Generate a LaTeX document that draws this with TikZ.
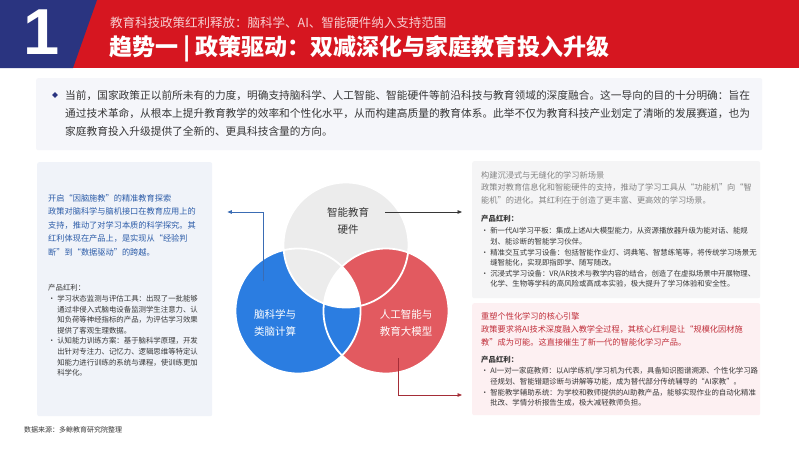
\documentclass[tikz,border=0pt]{standalone}
\usepackage{fontspec}
\setmainfont{Noto Sans CJK SC}
\newfontfamily\numfont{Liberation Sans}
\usetikzlibrary{arrows.meta,positioning,shapes.geometric}
\definecolor{hdred}{RGB}{214,22,32}
\definecolor{hdblue}{RGB}{42,52,128}
\definecolor{subtc}{RGB}{247,205,207}
\definecolor{introc}{RGB}{245,246,250}
\definecolor{lboxc}{RGB}{240,243,249}
\definecolor{rtopc}{RGB}{245,245,246}
\definecolor{rbotc}{RGB}{253,240,242}
\definecolor{ltxtc}{RGB}{44,92,168}
\definecolor{rtxtc}{RGB}{192,46,58}
\definecolor{gtxtc}{RGB}{130,130,130}
\definecolor{darktxt}{RGB}{55,55,55}
\definecolor{vblue}{RGB}{43,125,225}
\definecolor{vred}{RGB}{226,90,96}
\definecolor{vgray}{RGB}{236,236,236}
\definecolor{arrblue}{RGB}{58,108,180}
\definecolor{arrred}{RGB}{165,45,55}
\newcommand{\ind}{\hphantom{•\ }}

\begin{document}
\begin{tikzpicture}[x=1pt,y=-1pt,
  panel/.style={inner sep=0pt,rounded corners=2pt,anchor=north west},
  body/.style={anchor=north west,inner sep=0pt,align=left},
  bluetxt/.style={body,text=ltxtc,font=\fontsize{8.2}{13.5}\selectfont},
  graytxt/.style={body,text=gtxtc,font=\fontsize{8.2}{12.5}\selectfont},
  redtxt/.style={body,text=rtxtc,font=\fontsize{8.2}{13}\selectfont},
  prodtxt/.style={body,text=darktxt,font=\fontsize{7.4}{10.6}\selectfont},
  venntxt/.style={align=center,font=\fontsize{10.5}{17}\selectfont},
  conn/.style={line width=0.8pt,-{Triangle[length=4.5pt,width=3.6pt]}}]
\useasboundingbox (0,0) rectangle (799,450);
\fill[white] (0,0) rectangle (799,450);
% ---- header band ----
\fill[hdred] (0,0) rectangle (799,68);
\fill[hdblue] (0,0) -- (97,0) -- (73,68) -- (0,68) -- cycle;
\node[text=white,font=\numfont\bfseries\fontsize{65}{65}\selectfont,inner sep=0pt] (num) at (42,32) {1};
\node[anchor=west,inner sep=0pt,text=subtc,font=\fontsize{12.5}{14}\selectfont] (subt) at (110,23)
  {教育科技政策红利释放：脑科学、AI、智能硬件纳入支持范围};
\node[anchor=west,inner sep=0pt,text=white,font=\bfseries\fontsize{23}{26}\selectfont] (title) at (109,49)
  {趋势一 | 政策驱动：双减深化与家庭教育投入升级};
% ---- intro ----
\node[panel,fill=introc,minimum width=726pt,minimum height=72pt] (introbox) at (36,78) {};
\node[diamond,fill=hdblue,inner sep=0pt,minimum size=6pt] (dia) at (55,95) {};
\node[body,text=darktxt,font=\fontsize{10.7}{18}\selectfont] (intro) at (65,90.5)
  {当前，国家政策正以前所未有的力度，明确支持脑科学、人工智能、智能硬件等前沿科技与教育领域的深度融合。这一导向的目的十分明确：旨在\\
   通过技术革命，从根本上提升教育教学的效率和个性化水平，从而构建高质量的教育体系。此举不仅为教育科技产业划定了清晰的发展赛道，也为\\
   家庭教育投入升级提供了全新的、更具科技含量的方向。};
% ---- side panels ----
\node[panel,fill=lboxc,minimum width=175pt,minimum height=254pt] (lbox) at (37,162) {};
\node[panel,fill=rtopc,minimum width=288pt,minimum height=137pt] (rtop) at (472,161) {};
\node[panel,fill=rbotc,minimum width=288pt,minimum height=112pt] (rbot) at (472,303) {};
% left panel text
\node[bluetxt] (ltitle) at (48,194)
  {开启“因脑施教”的精准教育探索\\政策对脑科学与脑机接口在教育应用上的\\支持，推动了对学习本质的科学探究。其\\
   红利体现在产品上，是实现从“经验判\\断”到“数据驱动”的跨越。};
\node[prodtxt] (lprod) at (48,284.5)
  {产品红利：\\• 学习状态监测与评估工具：出现了一批能够\\\ind 通过非侵入式脑电设备监测学生注意力、认\\
   \ind 知负荷等神经指标的产品，为评估学习效果\\\ind 提供了客观生理数据。\\
   • 认知能力训练方案：基于脑科学原理，开发\\\ind 出针对专注力、记忆力、逻辑思维等特定认\\
   \ind 知能力进行训练的系统与课程，使训练更加\\\ind 科学化。};
% right top panel text
\node[graytxt] (rttitle) at (481,171)
  {构建沉浸式与无缝化的学习新场景\\政策对教育信息化和智能硬件的支持，推动了学习工具从“功能机”向“智\\
   能机”的进化。其红利在于创造了更丰富、更高效的学习场景。};
\node[prodtxt,font=\bfseries\fontsize{7.4}{10.6}\selectfont] (rthead) at (481,214.5) {产品红利：};
\node[prodtxt] (rtprod) at (481,227.5)
  {• 新一代AI学习平板：集成上述AI大模型能力，从资源播放器升级为能对话、能规\\\ind 划、能诊断的智能学习伙伴。\\
   • 精准交互式学习设备：包括智能作业灯、词典笔、智慧练笔等，将传统学习场景无\\\ind 缝智能化，实现即指即学、随写随改。\\
   • 沉浸式学习设备：VR/AR技术与教学内容的结合，创造了在虚拟场景中开展物理、\\\ind 化学、生物等学科的高风险或高成本实验，极大提升了学习体验和安全性。};
% right bottom panel text
\node[redtxt] (rbtitle) at (481,312)
  {重塑个性化学习的核心引擎\\政策要求将AI技术深度融入教学全过程，其核心红利是让“规模化因材施\\
   教”成为可能。这直接催生了新一代的智能化学习产品。};
\node[prodtxt,font=\bfseries\fontsize{7.4}{10.6}\selectfont] (rbhead) at (481,355.5) {产品红利：};
\node[prodtxt] (rbprod) at (481,367.5)
  {• AI一对一家庭教师：以AI学练机/学习机为代表，具备知识图谱溯源、个性化学习路\\
   \ind 径规划、智能错题诊断与讲解等功能，成为替代部分传统辅导的“AI家教”。\\
   • 智能教学辅助系统：为学校和教师提供的AI助教产品，能够实现作业的自动化精准\\
   \ind 批改、学情分析报告生成，极大减轻教师负担。};
% ---- Venn of three fields ----
\coordinate (ctop) at (346,245);
\coordinate (cleft) at (298,311);
\coordinate (cright) at (386,311);
\def\vr{62.5pt}
\fill[vblue] (cleft) circle[radius=\vr];
\fill[vred] (cright) circle[radius=\vr];
\fill[vgray] (ctop) circle[radius=\vr];
\begin{scope}
  \clip (ctop) circle[radius=\vr];
  \fill[vred] (cright) circle[radius=\vr];
\end{scope}
\begin{scope}
  \clip (cright) circle[radius=\vr];
  \fill[vblue] (cleft) circle[radius=\vr];
\end{scope}
\begin{scope}
  \clip (cleft) circle[radius=\vr];
  \clip (ctop) circle[radius=\vr];
  \fill[white] (cright) circle[radius=\vr];
\end{scope}
\foreach \c in {ctop,cleft,cright}
  \draw[white,line width=1.8pt] (\c) circle[radius=\vr];
\node[venntxt,text=darktxt] (hw) at (348,221) {智能教育\\硬件};
\node[venntxt,text=white] (brain) at (275,323) {脑科学与\\类脑计算};
\node[venntxt,text=white] (ai) at (406,323) {人工智能与\\教育大模型};
% ---- connectors to panels ----
\coordinate (lstart) at (263,281);
\coordinate (lbend) at (263,212);
\draw[conn,arrblue,shorten >=15pt] (lstart) -- (lbend) -- (lbend -| lbox.east);
\coordinate (tstart) at (385,212);
\draw[conn,darktxt,shorten >=10pt] (tstart) -- (tstart -| rtop.west);
\coordinate (bstart) at (398,358);
\coordinate (bbend) at (398,395);
\draw[conn,arrred,shorten >=10pt] (bstart) -- (bbend) -- (bbend -| rbot.west);
% ---- source ----
\node[anchor=west,inner sep=0pt,text=darktxt,font=\fontsize{7}{8}\selectfont] (src) at (24,430) {数据来源：多鲸教育研究院整理};
\end{tikzpicture}
\end{document}
